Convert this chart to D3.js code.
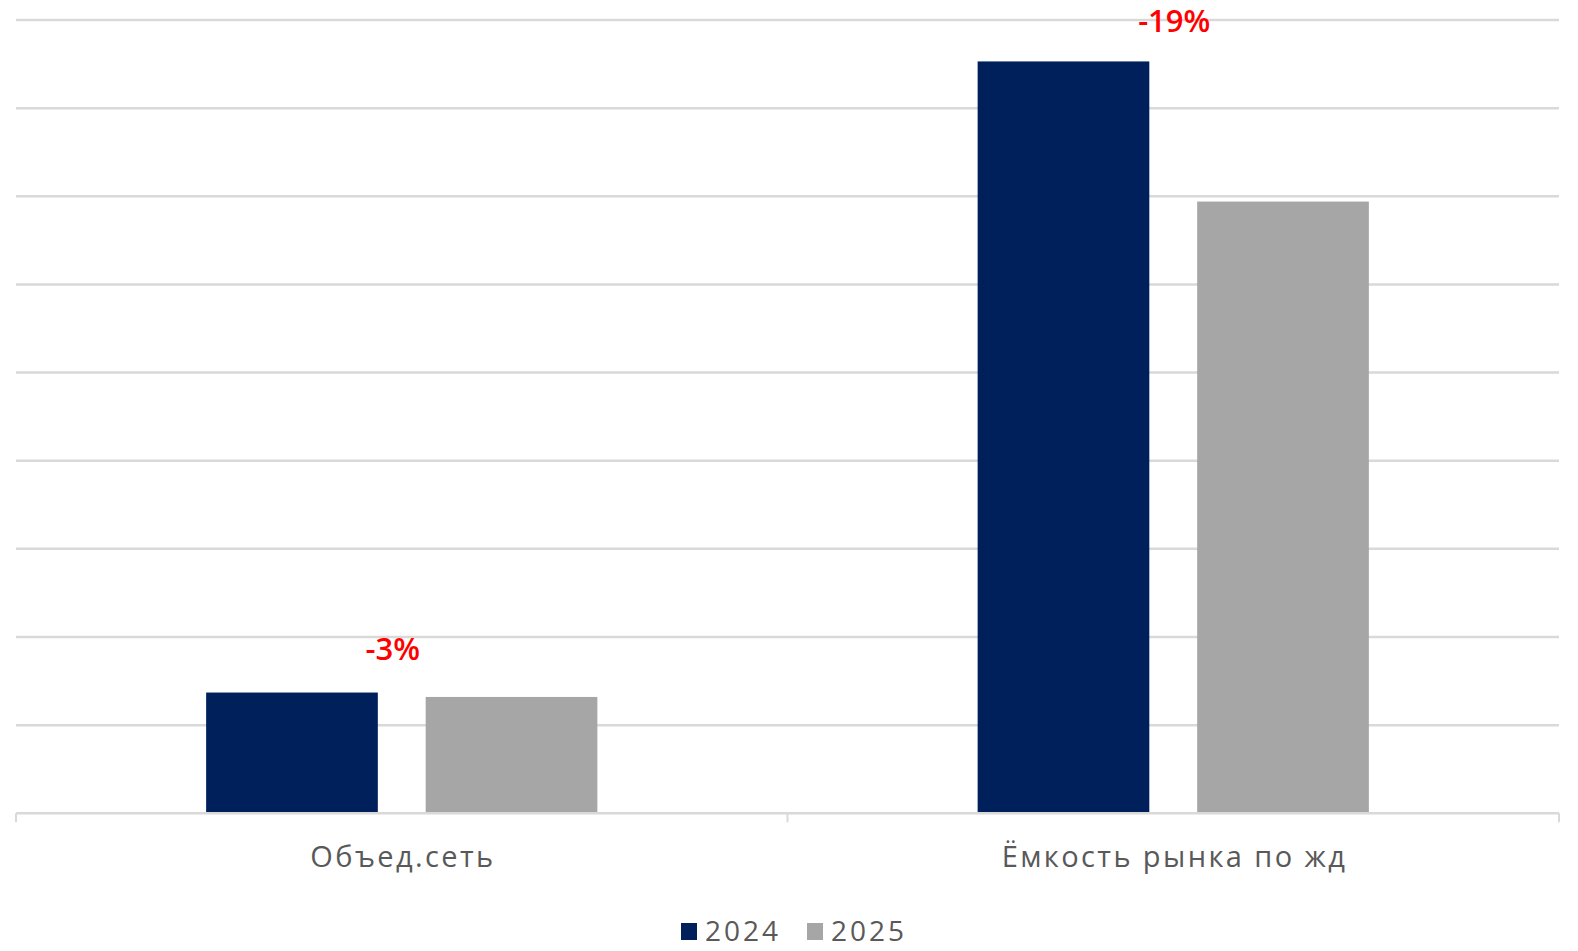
<!DOCTYPE html>
<html><head><meta charset="utf-8">
<script src="https://cdn.jsdelivr.net/npm/d3@7"></script>
<style>html,body{margin:0;padding:0;background:#fff;overflow:hidden}</style>
</head><body>
<svg id="c" width="1578" height="951"></svg>
<script>
const categories = ["Объед.сеть", "Ёмкость рынка по жд"];
const series = ["2024", "2025"];
const values2024 = [1.37, 8.53];
const values2025 = [1.32, 6.94];
const changeLabels = ["-3%", "-19%"];
const yTicks = [0,1,2,3,4,5,6,7,8,9];
const colors = ["#00205b", "#a6a6a6"];

const svg = d3.select("#c");
const mLeft = 16, mRight = 1559, mTop = 20, mBottom = 813.3;
const FONT = "'Open Sans', Lato, sans-serif";
const labelDx = [-9, 1];
const labelDy = [-33, -29];

const x0 = d3.scaleBand().domain(categories).range([mLeft, mRight]).padding(0);
const x1 = d3.scaleBand().domain(series).range([0, x0.bandwidth()])
  .paddingInner(0.218).paddingOuter(0.866);
const y = d3.scaleLinear().domain([0, 9]).range([mBottom, mTop]);

// gridlines
svg.append("g").selectAll("line").data(yTicks.filter(d => d > 0)).join("line")
  .attr("x1", mLeft).attr("x2", mRight)
  .attr("y1", d => y(d)).attr("y2", d => y(d))
  .attr("stroke", "#d9d9d9").attr("stroke-width", 2.5);

const data = categories.map((c, i) => ({cat: c, vals: [values2024[i], values2025[i]]}));

const g = svg.append("g").selectAll("g").data(data).join("g")
  .attr("transform", d => `translate(${x0(d.cat)},0)`);
g.selectAll("rect").data(d => d.vals.map((v, j) => ({s: series[j], v, j}))).join("rect")
  .attr("x", d => x1(d.s)).attr("width", x1.bandwidth())
  .attr("y", d => y(d.v)).attr("height", d => y(0) - y(d.v))
  .attr("fill", d => colors[d.j]);

// x axis
const xAxis = d3.axisBottom(x0).tickSize(0).tickFormat("");
const ax = svg.append("g").attr("transform", `translate(0,${mBottom})`).call(xAxis);
ax.select(".domain").remove();
svg.append("line").attr("x1", mLeft).attr("x2", mRight).attr("y1", mBottom).attr("y2", mBottom)
  .attr("stroke", "#d9d9d9").attr("stroke-width", 2.5);
const bounds = [mLeft, x0(categories[1]), mRight];
svg.append("g").selectAll("line").data(bounds).join("line")
  .attr("x1", d => d).attr("x2", d => d).attr("y1", mBottom).attr("y2", mBottom + 9)
  .attr("stroke", "#d9d9d9").attr("stroke-width", 2);

// category labels
svg.append("g").selectAll("text").data(categories).join("text")
  .attr("x", d => x0(d) + x0.bandwidth() / 2 + 1.2).attr("y", 867)
  .attr("text-anchor", "middle").attr("fill", "#595959")
  .style("font-family", FONT).style("font-size", "29px")
  .style("letter-spacing", "2.4px")
  .text(d => d);

// change labels
svg.append("g").selectAll("text").data(data).join("text")
  .attr("x", (d, i) => x0(d.cat) + x0.bandwidth() / 2 + labelDx[i])
  .attr("y", (d, i) => y(Math.max(...d.vals)) + labelDy[i])
  .attr("text-anchor", "middle").attr("fill", "#ff0000")
  .style("font-family", FONT).style("font-size", "31px").style("font-weight", "600")
  .style("letter-spacing", "0px")
  .text((d, i) => changeLabels[i]);

// legend
const leg = svg.append("g").selectAll("g").data(series).join("g")
  .attr("transform", (d, i) => `translate(${681 + i * 126},923)`);
leg.append("rect").attr("width", 16).attr("height", 17).attr("fill", (d, i) => colors[i]);
leg.append("text").attr("x", 24).attr("y", 18)
  .attr("fill", "#595959").style("font-family", FONT).style("font-size", "28px")
  .style("letter-spacing", "3px")
  .text(d => d);
</script>
</body></html>
